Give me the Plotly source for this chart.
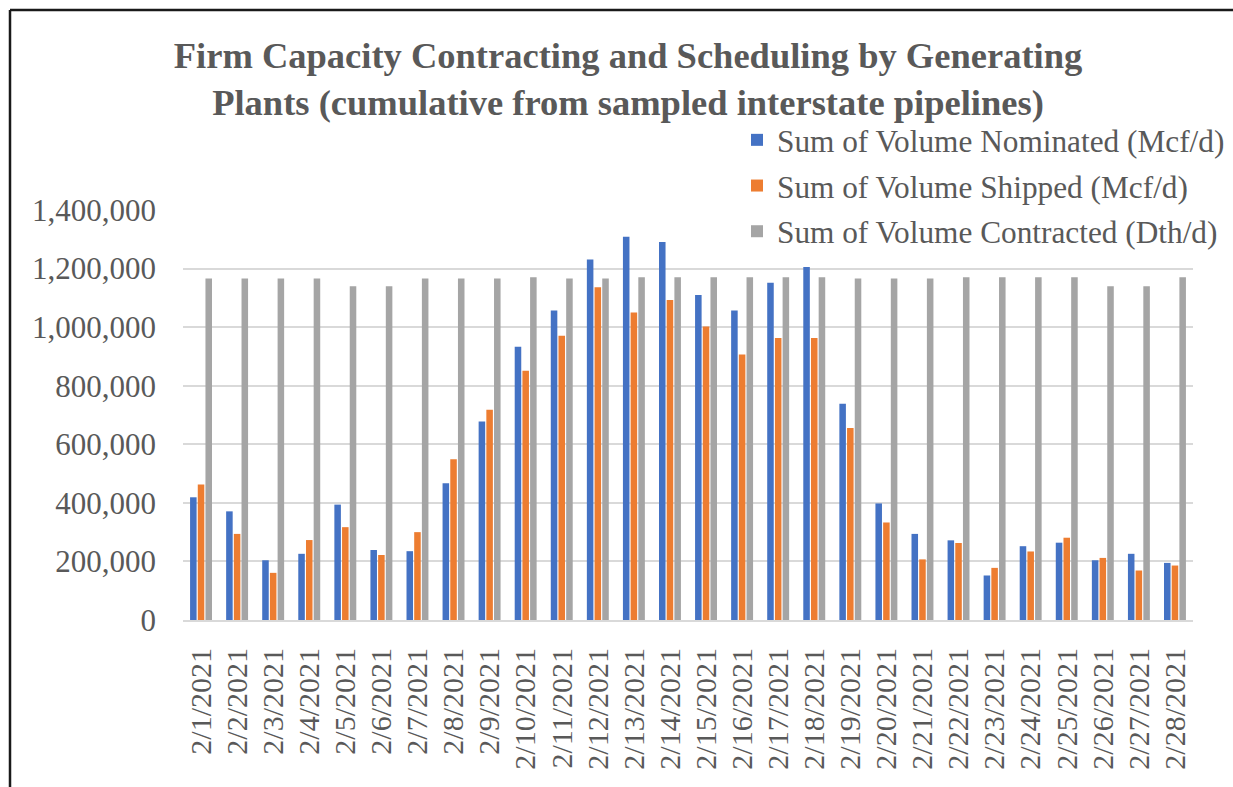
import plotly.graph_objects as go

dates = [f"2/{d}/2021" for d in range(1, 29)]

nominated = [419000, 371000, 204000, 226000, 394000, 239000, 235000, 467000, 678000, 933000,
             1057000, 1231000, 1309000, 1291000, 1110000, 1057000, 1152000, 1205000, 738000, 398000,
             294000, 272000, 152000, 252000, 264000, 204000, 226000, 195000]
shipped = [463000, 294000, 161000, 273000, 317000, 222000, 300000, 549000, 718000, 851000,
           971000, 1136000, 1050000, 1093000, 1002000, 907000, 963000, 963000, 656000, 333000,
           207000, 263000, 178000, 234000, 281000, 212000, 169000, 186000]
contracted = [1166000, 1166000, 1166000, 1166000, 1140000, 1140000, 1166000, 1166000, 1166000, 1170000,
              1166000, 1166000, 1170000, 1170000, 1170000, 1170000, 1170000, 1170000, 1166000, 1166000,
              1166000, 1170000, 1170000, 1170000, 1170000, 1140000, 1140000, 1170000]

series = [
    ("Sum of Volume Nominated (Mcf/d)", nominated, "#4472C4"),
    ("Sum of Volume Shipped (Mcf/d)", shipped, "#ED7D31"),
    ("Sum of Volume Contracted (Dth/d)", contracted, "#A5A5A5"),
]

FONT = "Liberation Serif, Times New Roman, serif"
TXT = "#595959"

fig = go.Figure()
for i, (name, vals, color) in enumerate(series):
    fig.add_trace(go.Bar(
        x=dates, y=vals, name=name, legendgroup=f"g{i}",
        marker=dict(color=color, line=dict(width=0)),
    ))

W, H = 1233, 787
L, R, T, B = 183, 40, 210, 167
pw, ph = W - L - R, H - T - B

def px_x(x):
    return (x - L) / pw

def px_y(y):
    return (H - B - y) / ph

fig.update_layout(
    width=W, height=H,
    margin=dict(l=L, r=R, t=T, b=B, autoexpand=False),
    paper_bgcolor="white", plot_bgcolor="white",
    barmode="group", bargap=0.36, bargroupgap=0.15,
    font=dict(family=FONT, color=TXT, size=30),
    title=dict(
        text="<b>Firm Capacity Contracting and Scheduling by Generating<br>Plants (cumulative from sampled interstate pipelines)</b>",
        x=628 / W, xanchor="center", xref="container",
        y=1 - 68 / H, yanchor="top", yref="container",
        font=dict(family=FONT, size=36.5, color=TXT),
    ),
    legend=dict(
        x=px_x(737), xanchor="left", y=px_y(113), yanchor="top",
        bgcolor="rgba(0,0,0,0)", font=dict(family=FONT, size=31.3, color=TXT),
        traceorder="grouped", tracegroupgap=2, itemwidth=30,
    ),
    xaxis=dict(
        type="category", tickangle=-90, showgrid=False,
        showline=True, linecolor="#D9D9D9", linewidth=2,
        ticks="", ticklabelstandoff=14, automargin=False,
        tickmode="array", tickvals=dates, ticktext=dates,
        tickfont=dict(family=FONT, size=30, color=TXT),
    ),
    yaxis=dict(
        range=[0, 1400000], dtick=200000, tickformat=",d",
        showgrid=True, gridcolor="#D9D9D9", gridwidth=2, automargin=False,
        zeroline=False, showline=False, ticks="", ticklabelstandoff=26,
        tickfont=dict(family=FONT, size=31, color=TXT),
    ),
    showlegend=True,
)

# chart frame edges
fig.add_shape(type="line", xref="paper", yref="paper",
              x0=px_x(10), x1=px_x(10), y0=px_y(800), y1=px_y(10),
              line=dict(color="#1a1a1a", width=2.5))
fig.add_shape(type="line", xref="paper", yref="paper",
              x0=px_x(10), x1=px_x(1240), y0=px_y(10), y1=px_y(10),
              line=dict(color="#1a1a1a", width=2.5))

fig.write_html("out.html")
